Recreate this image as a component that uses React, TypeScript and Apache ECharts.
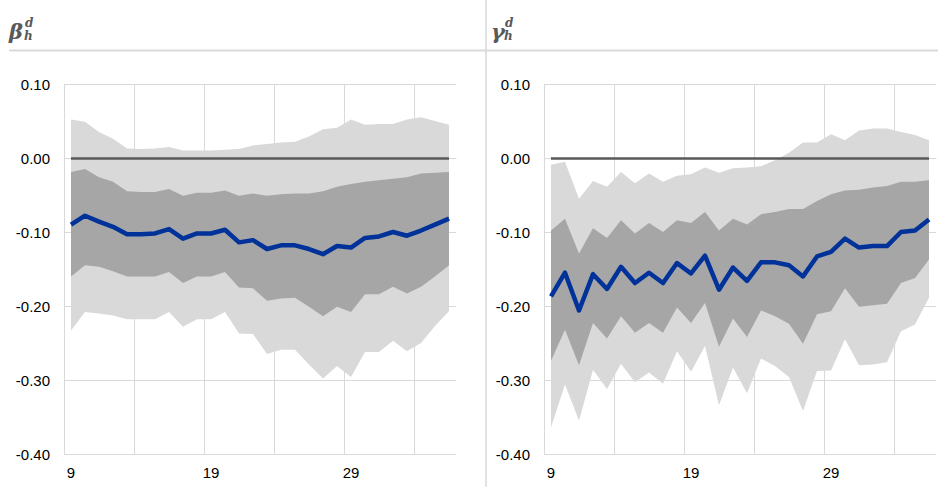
import React, { useEffect, useRef } from "react";
import * as echarts from "echarts";

const categories = [9, 10, 11, 12, 13, 14, 15, 16, 17, 18, 19, 20, 21, 22, 23, 24, 25, 26, 27, 28, 29, 30, 31, 32, 33, 34, 35, 36];

const betaMid = [-0.090, -0.078, -0.086, -0.093, -0.103, -0.103, -0.102, -0.096, -0.109, -0.102, -0.102, -0.097, -0.114, -0.111, -0.123, -0.118, -0.118, -0.123, -0.130, -0.119, -0.121, -0.108, -0.106, -0.100, -0.105, -0.098, -0.090, -0.082];
const betaDarkUp = [-0.019, -0.015, -0.026, -0.032, -0.045, -0.046, -0.046, -0.042, -0.051, -0.047, -0.047, -0.044, -0.051, -0.048, -0.051, -0.049, -0.048, -0.048, -0.045, -0.039, -0.035, -0.032, -0.030, -0.028, -0.026, -0.021, -0.020, -0.019];
const betaDarkLo = [-0.160, -0.145, -0.147, -0.153, -0.160, -0.160, -0.160, -0.154, -0.169, -0.160, -0.160, -0.154, -0.175, -0.176, -0.193, -0.190, -0.189, -0.201, -0.214, -0.201, -0.208, -0.184, -0.184, -0.174, -0.183, -0.174, -0.160, -0.145];
const betaLightUp = [0.052, 0.049, 0.035, 0.026, 0.013, 0.012, 0.013, 0.015, 0.010, 0.010, 0.010, 0.011, 0.012, 0.017, 0.019, 0.021, 0.022, 0.029, 0.039, 0.041, 0.052, 0.045, 0.046, 0.046, 0.052, 0.055, 0.050, 0.045];
const betaLightLo = [-0.233, -0.208, -0.210, -0.213, -0.218, -0.218, -0.218, -0.208, -0.228, -0.218, -0.218, -0.208, -0.237, -0.238, -0.265, -0.259, -0.259, -0.279, -0.298, -0.281, -0.296, -0.262, -0.262, -0.247, -0.261, -0.250, -0.227, -0.207];

const gammaMid = [-0.187, -0.155, -0.206, -0.157, -0.177, -0.147, -0.169, -0.155, -0.169, -0.142, -0.156, -0.132, -0.178, -0.148, -0.166, -0.141, -0.141, -0.145, -0.160, -0.133, -0.127, -0.109, -0.121, -0.119, -0.119, -0.100, -0.098, -0.083];
const gammaDarkUp = [-0.098, -0.082, -0.129, -0.095, -0.108, -0.084, -0.102, -0.088, -0.100, -0.084, -0.088, -0.073, -0.098, -0.082, -0.090, -0.076, -0.073, -0.069, -0.069, -0.058, -0.049, -0.044, -0.043, -0.040, -0.038, -0.032, -0.032, -0.030];
const gammaDarkLo = [-0.274, -0.232, -0.280, -0.223, -0.244, -0.214, -0.236, -0.223, -0.236, -0.202, -0.223, -0.196, -0.255, -0.217, -0.242, -0.206, -0.214, -0.224, -0.251, -0.211, -0.207, -0.176, -0.201, -0.199, -0.197, -0.169, -0.162, -0.137];
const gammaLightUp = [-0.009, -0.005, -0.055, -0.031, -0.039, -0.019, -0.034, -0.021, -0.032, -0.024, -0.022, -0.013, -0.020, -0.014, -0.013, -0.011, -0.003, 0.007, 0.021, 0.021, 0.032, 0.024, 0.037, 0.040, 0.040, 0.035, 0.031, 0.024];
const gammaLightLo = [-0.364, -0.306, -0.355, -0.286, -0.312, -0.278, -0.303, -0.290, -0.305, -0.261, -0.289, -0.254, -0.334, -0.283, -0.318, -0.271, -0.281, -0.296, -0.342, -0.288, -0.287, -0.245, -0.280, -0.279, -0.276, -0.234, -0.225, -0.189];

const yTicks = { min: -0.4, max: 0.1, interval: 0.1 };

const LIGHT = "#d9d9d9";
const DARK = "#a6a6a6";
const BLUE = "#003299";
const ZERO = "#595959";
const FONT = "Liberation Sans, Arial, sans-serif";

function bandSeries(idx: number, name: string, lo: number[], up: number[], color: string) {
  const diff = up.map((u, i) => +(u - lo[i]).toFixed(4));
  return [
    {
      type: "line",
      xAxisIndex: idx,
      yAxisIndex: idx,
      stack: name,
      stackStrategy: "all",
      data: lo,
      symbol: "none",
      lineStyle: { opacity: 0, width: 0 },
      silent: true,
    },
    {
      type: "line",
      xAxisIndex: idx,
      yAxisIndex: idx,
      stack: name,
      stackStrategy: "all",
      data: diff,
      symbol: "none",
      lineStyle: { opacity: 0, width: 0 },
      areaStyle: { color, opacity: 1 },
      silent: true,
    },
  ];
}

function panelSeries(idx: number, mid: number[], dLo: number[], dUp: number[], lLo: number[], lUp: number[]) {
  return [
    ...bandSeries(idx, "light" + idx, lLo, lUp, LIGHT),
    ...bandSeries(idx, "dark" + idx, dLo, dUp, DARK),
    {
      type: "line",
      xAxisIndex: idx,
      yAxisIndex: idx,
      data: mid,
      symbol: "none",
      lineStyle: { color: BLUE, width: 4.5, join: "round" },
      z: 5,
      markLine: {
        silent: true,
        symbol: "none",
        label: { show: false },
        lineStyle: { color: ZERO, width: 2.5, type: "solid" },
        data: [[{ coord: [String(categories[0]), 0] }, { coord: [String(categories[categories.length - 1]), 0] }]],
      },
    },
  ];
}

function xAxisDef(idx: number) {
  return {
    type: "category",
    gridIndex: idx,
    data: categories.map(String),
    boundaryGap: true,
    axisLine: { show: true, lineStyle: { color: LIGHT, width: 1 } },
    axisTick: { show: false, interval: 4 },
    axisLabel: { interval: 9, color: "#000", fontSize: 15, fontFamily: FONT, margin: 11 },
    splitLine: { show: true, interval: 4, showMaxLine: false, lineStyle: { color: LIGHT, width: 1 } },
  };
}

function yAxisDef(idx: number) {
  return {
    type: "value",
    gridIndex: idx,
    min: yTicks.min,
    max: yTicks.max,
    interval: yTicks.interval,
    axisLine: { show: false },
    axisTick: { show: false },
    axisLabel: {
      color: "#000",
      fontSize: 15,
      fontFamily: FONT,
      margin: 14,
      formatter: (v: number) => v.toFixed(2),
    },
    splitLine: { show: true, lineStyle: { color: LIGHT, width: 1 } },
  };
}

function titleGraphic(x: number, main: string, off: number) {
  return {
    type: "group",
    left: x,
    top: 17,
    children: [
      {
        type: "text",
        x: 0,
        y: 4,
        style: { text: main, font: "italic bold 21px 'DejaVu Serif', serif", fill: ZERO },
      },
      {
        type: "text",
        x: off + 1,
        y: 0,
        style: { text: "d", font: "italic bold 12px 'DejaVu Serif', serif", fill: ZERO },
      },
      {
        type: "text",
        x: off,
        y: 13,
        style: { text: "h", font: "italic bold 12px 'DejaVu Serif', serif", fill: ZERO },
      },
    ],
  };
}

export default function App() {
  const ref = useRef<HTMLDivElement>(null);
  useEffect(() => {
    if (!ref.current) return;
    const chart = echarts.init(ref.current, undefined, { renderer: "svg" });
    chart.setOption({
      animation: false,
      backgroundColor: "#fff",
      grid: [
        { left: 64, top: 84, width: 392, height: 370, containLabel: false },
        { left: 544, top: 84, width: 392, height: 370, containLabel: false },
      ],
      xAxis: [xAxisDef(0), xAxisDef(1)],
      yAxis: [yAxisDef(0), yAxisDef(1)],
      series: [
        ...panelSeries(0, betaMid, betaDarkLo, betaDarkUp, betaLightLo, betaLightUp),
        ...panelSeries(1, gammaMid, gammaDarkLo, gammaDarkUp, gammaLightLo, gammaLightUp),
      ],
      graphic: [
        {
          type: "line",
          shape: { x1: 9, y1: 50.5, x2: 938, y2: 50.5 },
          style: { stroke: LIGHT, lineWidth: 2 },
          silent: true,
        },
        {
          type: "line",
          shape: { x1: 486, y1: 0, x2: 486, y2: 487 },
          style: { stroke: LIGHT, lineWidth: 1.5 },
          silent: true,
        },
        titleGraphic(9, "β", 15),
        titleGraphic(491, "γ", 13),
      ],
    });
    return () => chart.dispose();
  }, []);
  return (
    <div
      ref={ref}
      style={{ position: "fixed", left: 0, top: 0, width: 947, height: 487 }}
    />
  );
}
